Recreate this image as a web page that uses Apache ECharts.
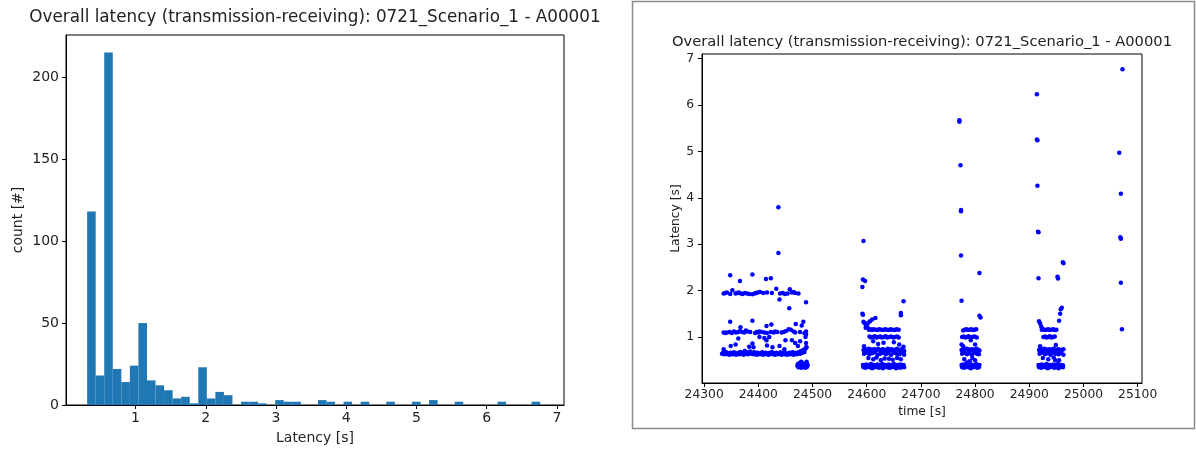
<!DOCTYPE html>
<html><head><meta charset="utf-8">
<script src="https://cdn.jsdelivr.net/npm/echarts@6/dist/echarts.min.js"></script>
<style>html,body{margin:0;padding:0;background:#fff}#c{width:1196px;height:450px}</style>
</head><body><div id="c"></div>
<script>
const titleText = 'Overall latency (transmission-receiving): 0721_Scenario_1 - A00001';
const histXLabel = 'Latency [s]';
const histYLabel = 'count [#]';
const scatterXLabel = 'time [s]';
const scatterYLabel = 'Latency [s]';

// histogram: bins of equal width starting at histBinStart
const histBinStart = 0.311;
const histBinWidth = 0.1217;
const histCounts = [118,18,215,22,14,24,50,15,12,9,4,5,1,23,4,8,6,0,2,2,1,0,3,2,2,0,0,3,2,0,2,0,2,0,0,2,0,0,2,0,3,0,0,2,0,0,0,0,2,0,0,0,2];
const histXTicks = [1,2,3,4,5,6,7];
const histYTicks = [0,50,100,150,200];

const scatterXTicks = [24300,24400,24500,24600,24700,24800,24900,25000,25100];
const scatterYTicks = [1,2,3,4,5,6,7];

// scatter points [time s, latency s], grouped by burst
const burst1 = [
[24333,0.64],[24335,0.66],[24337,0.63],[24339,0.65],[24341,0.67],[24343,0.63],[24345,0.65],[24347,0.62],[24349,0.66],[24351,0.64],[24353,0.63],[24355,0.67],[24357,0.64],[24359,0.62],[24361,0.65],[24363,0.66],[24365,0.63],[24367,0.68],[24369,0.64],[24371,0.66],[24373,0.62],[24375,0.70],[24377,0.64],[24379,0.67],[24381,0.63],[24383,0.65],[24385,0.69],[24387,0.64],[24389,0.66],[24391,0.63],[24393,0.67],[24395,0.65],[24397,0.62],[24399,0.66],[24401,0.64],[24403,0.63],[24405,0.65],[24407,0.67],[24409,0.62],[24411,0.64],[24413,0.66],[24415,0.63],[24417,0.65],[24419,0.62],[24421,0.66],[24423,0.64],[24425,0.68],[24427,0.63],[24429,0.65],[24431,0.62],[24433,0.66],[24435,0.64],[24437,0.63],[24439,0.65],[24441,0.67],[24443,0.62],[24445,0.64],[24447,0.66],[24449,0.63],[24451,0.65],[24453,0.62],[24455,0.64],[24457,0.66],[24459,0.63],[24461,0.65],[24463,0.67],[24465,0.62],[24467,0.64],[24469,0.66],[24471,0.63],[24473,0.65],[24475,0.68],[24477,0.64],[24479,0.70],[24481,0.66],[24483,0.72],[24485,0.68],[24487,0.75],[24489,0.78],
[24336,1.10],[24339,1.09],[24342,1.10],[24347,1.11],[24351,1.09],[24355,1.12],[24359,1.10],[24363,1.11],[24366,1.13],[24370,1.11],[24374,1.10],[24377,1.14],[24380,1.12],[24385,1.11],[24394,1.09],[24397,1.11],[24400,1.10],[24402,1.12],[24406,1.11],[24411,1.10],[24416,1.09],[24423,1.11],[24428,1.10],[24431,1.12],[24435,1.11],[24443,1.10],[24447,1.11],[24451,1.13],[24456,1.17],[24460,1.16],[24465,1.12],[24468,1.10],[24477,1.11],[24485,1.08],[24488,1.12],[24488,1.06],
[24336,1.94],[24339,1.95],[24342,1.96],[24348,1.93],[24352,2.01],[24358,1.94],[24361,1.95],[24364,1.96],[24368,1.94],[24371,1.93],[24375,1.95],[24379,1.94],[24383,1.93],[24389,1.92],[24393,1.94],[24396,1.95],[24399,1.96],[24403,1.97],[24409,1.95],[24416,1.96],[24425,1.95],[24433,2.04],[24440,1.94],[24445,1.95],[24449,1.93],[24454,1.94],[24458,2.03],[24462,1.96],[24465,1.97],[24468,1.95],[24474,1.94],
[24348,2.33],[24366,2.21],[24389,2.35],[24414,2.25],[24423,2.27],[24437,3.80],[24437,2.81],[24439,1.81],[24457,1.62],[24488,1.75],[24348,1.33],[24389,1.35],[24415,1.24],[24424,1.27],[24469,1.28],[24483,1.33],[24480,1.25],
[24336,0.74],[24349,0.81],[24358,0.84],[24363,0.97],[24367,1.21],[24383,0.79],[24389,0.86],[24391,0.78],[24402,1.00],[24415,0.93],[24416,0.82],[24426,0.78],[24439,0.81],[24448,0.74],[24450,0.93],[24462,0.93],[24468,0.87],[24473,0.81],[24477,0.91],[24487,1.00],[24488,0.87],[24488,0.78],[24420,1.00],[24411,0.98],
[24472,0.38],[24473,0.42],[24474,0.35],[24475,0.40],[24476,0.44],[24477,0.36],[24478,0.39],[24479,0.34],[24479,0.47],[24480,0.41],[24481,0.37],[24482,0.35],[24483,0.43],[24484,0.39],[24485,0.36],[24486,0.41],[24487,0.34],[24488,0.38],[24489,0.44],[24490,0.36],[24491,0.40],[24489,0.47]
];
const burst2 = [
[24594,3.07],[24593,2.24],[24597,2.21],[24592,2.08],[24592,1.50],[24593,1.48],[24668,1.77],[24663,1.52],[24663,1.47],
[24594,1.33],[24596,1.30],[24599,1.25],[24603,1.31],[24606,1.34],[24610,1.38],[24616,1.41],[24598,1.20],[24601,1.22],
[24604,1.16],[24607,1.17],[24610,1.15],[24613,1.17],[24617,1.16],[24620,1.15],[24623,1.17],[24627,1.16],[24630,1.15],[24634,1.17],[24637,1.16],[24641,1.15],[24644,1.17],[24648,1.16],[24652,1.15],[24655,1.17],[24659,1.16],
[24605,1.01],[24608,0.99],[24611,1.00],[24615,1.02],[24618,0.99],[24621,1.00],[24625,1.01],[24628,0.99],[24632,1.00],[24635,1.02],[24638,0.99],[24642,1.00],[24645,1.01],[24649,0.99],[24652,1.00],[24656,1.01],[24659,0.99],
[24631,0.88],[24612,0.91],[24621,0.85],[24650,0.89],[24668,0.79],[24660,0.84],[24595,0.80],
[24594,0.72],[24596,0.74],[24599,0.70],[24601,0.73],[24604,0.75],[24606,0.71],[24609,0.73],[24611,0.72],[24614,0.74],[24616,0.70],[24619,0.73],[24621,0.75],[24624,0.72],[24626,0.71],[24629,0.74],[24631,0.73],[24634,0.70],[24636,0.72],[24639,0.75],[24641,0.73],[24644,0.71],[24646,0.74],[24649,0.72],[24651,0.70],[24654,0.73],[24656,0.75],[24659,0.72],[24661,0.71],[24664,0.74],[24666,0.73],[24669,0.70],
[24595,0.64],[24600,0.66],[24605,0.63],[24610,0.65],[24615,0.67],[24620,0.62],[24625,0.64],[24630,0.66],[24635,0.63],[24640,0.65],[24645,0.62],[24650,0.66],[24655,0.64],[24660,0.63],[24665,0.65],[24669,0.62],
[24603,0.55],[24612,0.52],[24618,0.56],[24626,0.50],[24633,0.54],[24641,0.53],[24648,0.51],[24656,0.55],[24663,0.52],
[24593,0.40],[24596,0.39],[24599,0.41],[24602,0.38],[24605,0.40],[24608,0.42],[24611,0.39],[24614,0.40],[24617,0.38],[24620,0.41],[24623,0.39],[24626,0.40],[24629,0.42],[24632,0.38],[24635,0.40],[24638,0.39],[24641,0.41],[24644,0.38],[24647,0.40],[24650,0.42],[24653,0.39],[24656,0.40],[24659,0.38],[24662,0.41],[24665,0.39],[24668,0.40],
[24594,0.35],[24598,0.34],[24602,0.36],[24606,0.35],[24610,0.33],[24614,0.35],[24618,0.36],[24622,0.34],[24626,0.35],[24630,0.33],[24634,0.36],[24638,0.35],[24642,0.34],[24646,0.35],[24650,0.36],[24654,0.33],[24658,0.35],[24662,0.34],[24666,0.36],[24669,0.35]
];
const burst3 = [
[24771,5.67],[24771,5.64],[24773,4.70],[24774,3.74],[24774,3.71],[24774,2.76],[24808,2.38],[24775,1.78],[24808,1.46],[24810,1.42],
[24778,1.14],[24781,1.16],[24784,1.17],[24787,1.15],[24790,1.16],[24793,1.17],[24796,1.15],[24799,1.16],[24802,1.17],
[24776,1.00],[24779,1.01],[24782,0.99],[24785,1.00],[24788,1.02],[24791,0.99],[24795,1.00],[24799,1.01],[24803,0.99],
[24775,0.84],[24792,0.93],[24800,0.84],[24778,0.80],
[24775,0.72],[24778,0.74],[24780,0.70],[24783,0.73],[24785,0.75],[24788,0.71],[24790,0.73],[24793,0.72],[24795,0.74],[24798,0.70],[24800,0.73],[24803,0.75],[24805,0.72],[24808,0.71],
[24776,0.64],[24780,0.66],[24785,0.63],[24789,0.65],[24794,0.62],[24798,0.66],[24803,0.64],[24807,0.63],
[24780,0.52],[24790,0.48],[24795,0.55],[24800,0.50],[24785,0.45],
[24775,0.40],[24778,0.41],[24781,0.39],[24784,0.42],[24787,0.40],[24790,0.38],[24793,0.41],[24796,0.39],[24799,0.40],[24802,0.42],[24805,0.38],[24808,0.40],
[24776,0.35],[24780,0.34],[24784,0.36],[24788,0.35],[24792,0.33],[24796,0.35],[24800,0.36],[24804,0.34],[24807,0.35]
];
const burst4 = [
[24914,6.23],[24914,5.26],[24915,5.24],[24915,4.26],[24916,3.27],[24917,3.26],[24917,2.27],[24952,2.30],[24953,2.26],[24962,2.61],[24963,2.59],[24960,1.63],[24958,1.60],[24955,1.35],[24957,1.50],[24918,1.34],[24920,1.29],[24922,1.23],
[24923,1.16],[24926,1.17],[24929,1.15],[24932,1.16],[24935,1.17],[24938,1.15],[24941,1.16],[24944,1.17],[24947,1.15],[24950,1.16],
[24926,1.00],[24929,1.01],[24932,0.99],[24935,1.00],[24938,1.02],[24941,0.99],[24944,1.00],[24947,1.01],
[24949,0.83],[24948,0.50],[24920,0.80],
[24918,0.72],[24920,0.74],[24923,0.70],[24925,0.73],[24928,0.75],[24930,0.71],[24933,0.73],[24935,0.72],[24938,0.74],[24940,0.70],[24943,0.73],[24945,0.75],[24948,0.72],[24950,0.71],[24953,0.74],[24955,0.73],[24958,0.70],[24960,0.72],[24963,0.74],
[24919,0.64],[24924,0.66],[24929,0.63],[24934,0.65],[24939,0.62],[24944,0.66],[24949,0.64],[24954,0.63],[24959,0.65],[24963,0.62],
[24925,0.55],[24935,0.52],[24945,0.56],[24955,0.50],
[24917,0.40],[24920,0.39],[24923,0.41],[24926,0.38],[24929,0.40],[24932,0.42],[24935,0.39],[24938,0.40],[24941,0.38],[24944,0.41],[24947,0.39],[24950,0.40],[24953,0.42],[24956,0.38],[24959,0.40],[24962,0.39],
[24918,0.35],[24922,0.34],[24926,0.36],[24930,0.35],[24934,0.33],[24938,0.35],[24942,0.36],[24946,0.34],[24950,0.35],[24954,0.33],[24958,0.36],[24962,0.35]
];
const burst5 = [
[25072,6.77],[25066,4.97],[25069,4.09],[25068,3.15],[25069,3.12],[25069,2.17],[25071,1.17]
];

const FONT = 'DejaVu Sans';
const TXT = '#222';
const plain = v => String(v);

const histData = histCounts.map((c, i) => [histBinStart + i * histBinWidth, histBinStart + (i + 1) * histBinWidth, c]);
const scatterData = [].concat(burst1, burst2, burst3, burst4, burst5);

const chart = echarts.init(document.getElementById('c'), null, {renderer: 'canvas'});
chart.setOption({
  animation: false,
  backgroundColor: '#fff',
  textStyle: {fontFamily: FONT},
  grid: [
    {left: 66, top: 35, width: 498, height: 370, show: true, borderColor: '#000', borderWidth: 1, backgroundColor: 'transparent'},
    {left: 702, top: 54, width: 440, height: 329, show: true, borderColor: '#000', borderWidth: 1, backgroundColor: 'transparent'}
  ],
  xAxis: [
    {type: 'value', gridIndex: 0, min: 0.01, max: 7.1,
     axisLine: {show: true, onZero: false, lineStyle: {color: '#000', width: 1}},
     axisTick: {show: true, length: 4, lineStyle: {color: '#000'}, customValues: histXTicks},
     axisLabel: {fontSize: 14, color: TXT, fontFamily: FONT, margin: 6, customValues: histXTicks, formatter: plain},
     splitLine: {show: false},
     name: histXLabel, nameLocation: 'middle', nameGap: 26,
     nameTextStyle: {fontSize: 14, color: TXT, fontFamily: FONT}},
    {type: 'value', gridIndex: 1, min: 24296, max: 25108,
     axisLine: {show: true, onZero: false, lineStyle: {color: '#000', width: 1}},
     axisTick: {show: true, length: 4, lineStyle: {color: '#000'}, customValues: scatterXTicks},
     axisLabel: {fontSize: 12.3, color: TXT, fontFamily: FONT, margin: 6, customValues: scatterXTicks, formatter: plain},
     splitLine: {show: false},
     name: scatterXLabel, nameLocation: 'middle', nameGap: 22,
     nameTextStyle: {fontSize: 12.3, color: TXT, fontFamily: FONT}}
  ],
  yAxis: [
    {type: 'value', gridIndex: 0, min: 0, max: 225.75,
     axisLine: {show: true, onZero: false, lineStyle: {color: '#000', width: 1}},
     axisTick: {show: true, length: 4, lineStyle: {color: '#000'}, customValues: histYTicks},
     axisLabel: {fontSize: 14, color: TXT, fontFamily: FONT, margin: 7, customValues: histYTicks, formatter: plain},
     splitLine: {show: false},
     name: histYLabel, nameLocation: 'middle', nameGap: 41, nameRotate: 90,
     nameTextStyle: {fontSize: 14, color: TXT, fontFamily: FONT}},
    {type: 'value', gridIndex: 1, min: 0.01, max: 7.1,
     axisLine: {show: true, onZero: false, lineStyle: {color: '#000', width: 1}},
     axisTick: {show: true, length: 4, lineStyle: {color: '#000'}, customValues: scatterYTicks},
     axisLabel: {fontSize: 12.3, color: TXT, fontFamily: FONT, margin: 8, customValues: scatterYTicks, formatter: plain},
     splitLine: {show: false},
     name: scatterYLabel, nameLocation: 'middle', nameGap: 20, nameRotate: 90,
     nameTextStyle: {fontSize: 12.3, color: TXT, fontFamily: FONT}}
  ],
  graphic: [
    {type: 'rect', shape: {x: 632.5, y: 1.5, width: 562, height: 427}, style: {fill: 'none', stroke: '#8c8c8c', lineWidth: 1.5}, silent: true},
    {type: 'text', x: 315, y: 18, style: {text: titleText, fontSize: 16.8, fontFamily: FONT, fill: TXT, textAlign: 'center', textVerticalAlign: 'middle'}},
    {type: 'text', x: 922, y: 42, style: {text: titleText, fontSize: 14.7, fontFamily: FONT, fill: TXT, textAlign: 'center', textVerticalAlign: 'middle'}}
  ],
  series: [
    {type: 'custom', xAxisIndex: 0, yAxisIndex: 0, data: histData,
     encode: {x: [0, 1], y: 2},
     renderItem: function (params, api) {
       const p0 = api.coord([api.value(0), api.value(2)]);
       const p1 = api.coord([api.value(1), 0]);
       return {type: 'rect', shape: {x: p0[0], y: p0[1], width: p1[0] - p0[0], height: p1[1] - p0[1]}, style: {fill: '#1f77b4'}};
     }},
    {type: 'scatter', xAxisIndex: 1, yAxisIndex: 1, data: scatterData, symbol: 'circle', symbolSize: 4.5,
     itemStyle: {color: '#0000ff', opacity: 1}}
  ]
});
</script>
</body></html>
